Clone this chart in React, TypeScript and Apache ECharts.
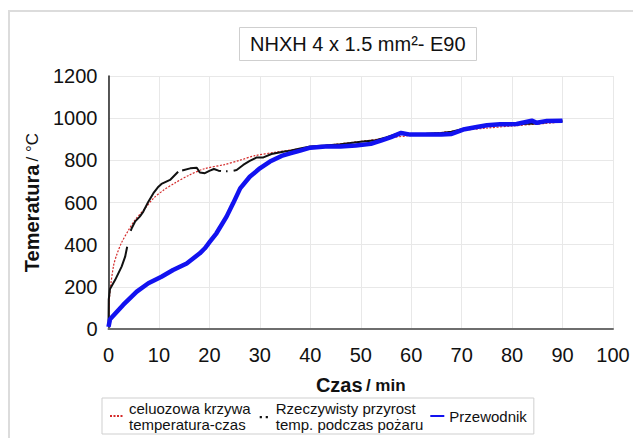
import React, { useEffect, useRef } from "react";
import * as echarts from "echarts";

const xTicks = [0, 10, 20, 30, 40, 50, 60, 70, 80, 90, 100];
const yTicks = [0, 200, 400, 600, 800, 1000, 1200];

const seriesNames = [
  "celuozowa krzywa\ntemperatura-czas",
  "Rzeczywisty przyrost\ntemp. podczas pożaru",
  "Przewodnik",
];

const redTime = [0, 0.15, 0.4, 1, 1.6, 2.6, 4, 5.25, 7, 9, 11, 13, 16, 19, 23, 26, 29, 33, 37, 40, 45, 50, 55, 60, 65, 70, 75, 80, 85, 90];
const redTemp = [20, 130, 200, 300, 350, 410, 470, 517, 565, 622, 660, 690, 730, 760, 780, 800, 822, 838, 852, 862, 876, 890, 905, 918, 930, 942, 953, 963, 972, 982];

const blackTime = [0, 0.05, 0.3, 1.3, 2.6, 3.3, 3.7, 3.95, 4.4, 4.6, 5.25, 6.2, 6.9, 7.9, 8.9, 9.9, 10.5, 12.2, 13.8, 14.1, 14.6, 16.2, 17.5, 18.1, 19.1, 20.1, 20.9, 21.8, 22.3, 22.6, 23.3, 23.6, 23.9, 24.8, 25.4, 26.7, 28, 29.4, 30.7, 32.3, 34.6, 36, 38, 40, 43, 46, 50, 53, 55, 58, 60, 63, 66, 68, 70, 73, 75, 78, 80, 83, 85, 87, 90];
const blackTemp = [20, 140, 190, 232, 296, 343, 390, null, 465, 478, 509, 533, 557, 604, 644, 675, 688, 707, 746, null, 752, 762, 765, 742, 739, 751, 759, 751, 749, null, 748, 748, null, 751, 754, 778, 797, 814, 814, 830, 841, 846, 856, 866, 870, 876, 888, 895, 908, 932, 924, 926, 930, 936, 948, 958, 965, 968, 970, 973, 975, 982, 985];

const blueTime = [0, 0.3, 2.9, 5.6, 7.9, 10.5, 12.8, 15.5, 18.1, 19.1, 20.1, 21.4, 23.4, 24.7, 26.1, 28, 30, 32, 34.3, 36, 38, 40, 43, 46, 49, 52, 54, 56, 58, 59.8, 62, 66, 68, 70.3, 73, 75, 77.6, 80.9, 83.9, 84.9, 86.9, 90];
const blueTemp = [10, 46, 114, 177, 217, 248, 280, 311, 359, 383, 414, 454, 533, 596, 667, 722, 762, 794, 821, 833, 846, 860, 866, 866, 870, 878, 893, 910, 930, 922, 922, 923, 925, 946, 958, 966, 971, 972, 988, 978, 987, 988];

const pairs = (t: number[], v: (number | null)[]) => t.map((x, i) => [x, v[i]]);

const FONT = "Liberation Sans, Arial, Helvetica, sans-serif";

export default function App() {
  const ref = useRef<HTMLDivElement>(null);
  useEffect(() => {
    if (!ref.current) return;
    const chart = echarts.init(ref.current, null, { renderer: "svg" });
    chart.setOption({
      animation: false,
      backgroundColor: "#ffffff",
      textStyle: { fontFamily: FONT },
      title: {
        text: "NHXH 4 x 1.5 mm²- E90",
        left: 239,
        top: 27,
        padding: [7, 11, 7, 11],
        borderColor: "#cfcfcf",
        borderWidth: 1,
        textStyle: { fontSize: 20, fontWeight: "normal", color: "#111", fontFamily: FONT },
      },
      graphic: [
        {
          type: "rect",
          shape: { x: 9, y: 11, width: 640, height: 450 },
          style: { fill: "none", stroke: "#dcdcdc", lineWidth: 2 },
          silent: true,
        },
      ],
      legend: {
        left: 102,
        top: 398,
        padding: [2, 7, 2, 7],
        itemGap: 6,
        itemWidth: 14,
        itemHeight: 8,
        borderColor: "#cfcfcf",
        borderWidth: 1,
        data: [
          { name: seriesNames[0] },
          {
            name: seriesNames[1],
            icon: "path://M0 0M14 8M3 4h2.2v2.2h-2.2zM9 4h2.2v2.2h-2.2z",
            itemStyle: { opacity: 1, color: "#111" },
          },
          { name: seriesNames[2] },
        ],
        itemStyle: { opacity: 0 },
        textStyle: { fontSize: 15, lineHeight: 16, color: "#111", fontFamily: FONT },
      },
      grid: { left: 108.5, right: 20, top: 76, bottom: 109 },
      xAxis: {
        type: "value",
        min: xTicks[0],
        max: xTicks[xTicks.length - 1],
        interval: 10,
        name: "{b|Czas} {s|/ min}",
        nameLocation: "middle",
        nameGap: 46,
        nameTextStyle: {
          rich: {
            b: { fontSize: 20, fontWeight: "bold", color: "#111", fontFamily: FONT },
            s: { fontSize: 17, fontWeight: "bold", color: "#111", fontFamily: FONT },
          },
        },
        axisLine: { show: true, lineStyle: { color: "#6e6e6e", width: 2 } },
        axisTick: { show: false },
        axisLabel: { fontSize: 20, color: "#111", margin: 16, fontFamily: FONT },
        splitLine: { show: true, lineStyle: { color: "#e8e8e8", width: 1 } },
      },
      yAxis: {
        type: "value",
        min: yTicks[0],
        max: yTicks[yTicks.length - 1],
        interval: 200,
        name: "{b|Temeratura} {s|/ °C}",
        nameLocation: "middle",
        nameRotate: 90,
        nameGap: 59,
        nameTextStyle: {
          rich: {
            b: { fontSize: 20, fontWeight: "bold", color: "#111", fontFamily: FONT },
            s: { fontSize: 17, fontWeight: "normal", color: "#111", fontFamily: FONT },
          },
        },
        axisLine: { show: true, lineStyle: { color: "#222", width: 1.5 } },
        axisTick: { show: false },
        axisLabel: {
          fontSize: 20,
          color: "#111",
          margin: 11,
          fontFamily: FONT,
          formatter: (v: number) => String(v),
        },
        splitLine: { show: true, lineStyle: { color: "#e8e8e8", width: 1 } },
      },
      series: [
        {
          name: seriesNames[0],
          type: "line",
          data: pairs(redTime, redTemp),
          symbol: "none",
          smooth: 0.3,
          lineStyle: { color: "#d42a2a", width: 1.2, type: [2, 1.5] },
          itemStyle: { color: "#d42a2a" },
          z: 2,
        },
        {
          name: seriesNames[1],
          type: "line",
          data: pairs(blackTime, blackTemp),
          symbol: "none",
          connectNulls: false,
          lineStyle: { color: "#111", width: 2 },
          itemStyle: { color: "#111" },
          z: 3,
        },
        {
          name: seriesNames[2],
          type: "line",
          data: pairs(blueTime, blueTemp),
          symbol: "none",
          lineStyle: { color: "#1212f0", width: 4.5 },
          itemStyle: { color: "#1212f0" },
          z: 4,
        },
      ],
    });
    return () => chart.dispose();
  }, []);
  return (
    <div
      ref={ref}
      style={{ position: "fixed", left: 0, top: 0, width: 633, height: 438 }}
    />
  );
}
